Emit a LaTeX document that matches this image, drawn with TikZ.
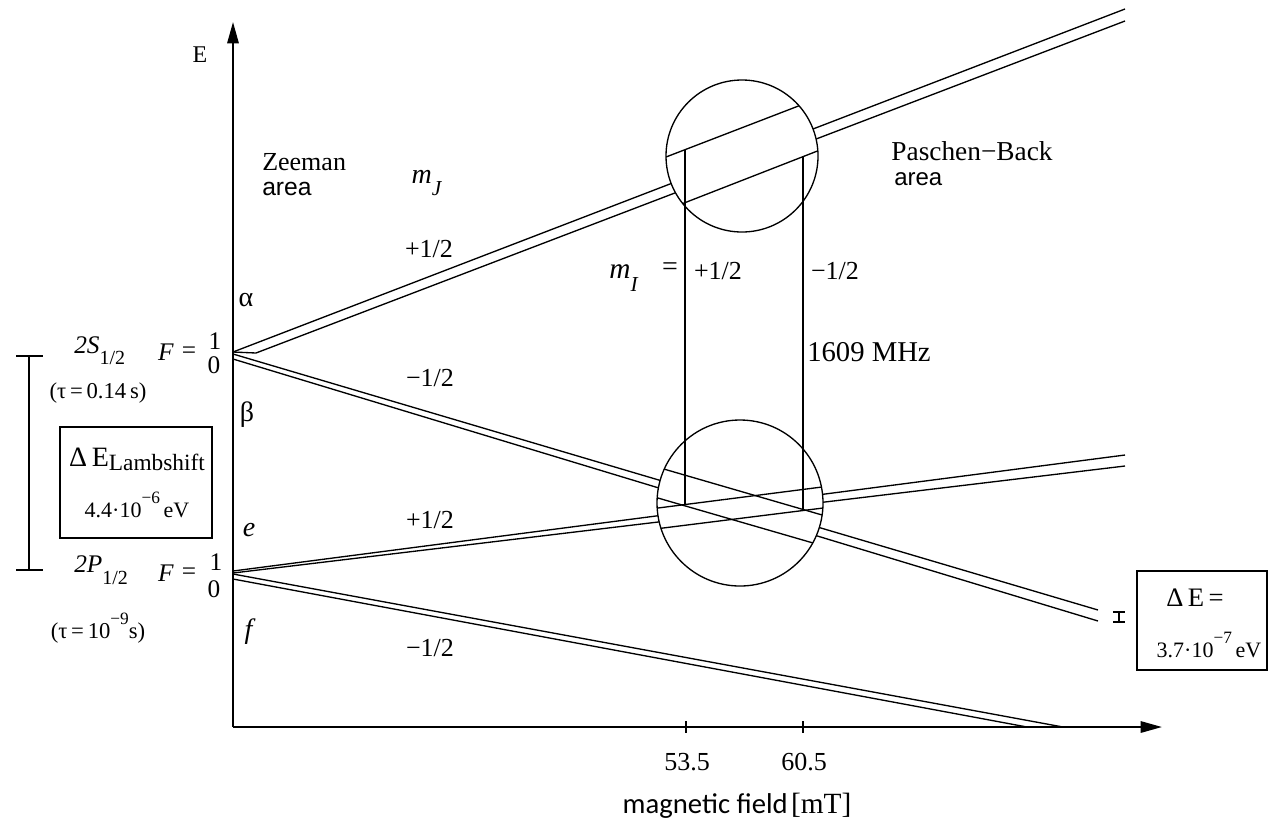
\documentclass[tikz,border=0pt]{standalone}
\usepackage{fontspec}
\setmainfont{Liberation Serif}
\newfontfamily\arialf{Liberation Sans}
\newfontfamily\calib{Carlito}
\usetikzlibrary{arrows.meta}
\newcommand\subt[2][15]{\raisebox{-0.45em}{\fontsize{#1}{#1}\selectfont #2}}
\newcommand\supt[2][13]{\raisebox{0.6em}{\fontsize{#1}{#1}\selectfont #2}}
\newcommand\fsz[1]{\fontsize{#1}{#1}\selectfont}
\begin{document}
\begin{tikzpicture}[x=0.75pt,y=-0.75pt,
  lvl/.style={line width=1pt},
  axis/.style={line width=1.5pt, -{Stealth[length=16pt,width=8.5pt,inset=0pt]}},
  lab/.style={inner sep=0pt, font=\fsz{19.5}},
  sml/.style={inner sep=0pt, font=\fsz{19}},
  boxst/.style={draw, line width=1pt}]
\useasboundingbox (0,0) rectangle (1269,826);

% coordinates
\coordinate (O) at (233,727);
\coordinate (ytop) at (233,22);
\coordinate (xend) at (1162,727);
\coordinate (S) at (233,352);
\coordinate (P) at (233,571);

% axes
\draw[axis] (O) -- (ytop);
\draw[axis] (O) -- (xend);
\draw[line width=1pt] (686,721) -- (686,733);
\draw[line width=1pt] (803,721) -- (803,733);

% level lines
\draw[lvl] (S) -- (1125,9);
\draw[lvl] (S) -- (256,353) -- (1125,21);
\draw[lvl] (233,354) -- (1098,610);
\draw[lvl] (233,359) -- (1098,621);
\draw[lvl] (P) -- (1125,455);
\draw[lvl] (233,573) -- (1125,466);
\draw[lvl] (233,574) -- (1063,727);
\draw[lvl] (233,579) -- (1027,727);

% circles
\coordinate (c1) at (742,156);
\coordinate (c2) at (740,503);
\fill[white] (c1) circle[radius=57pt];
\fill[white] (c2) circle[radius=62.25pt];
\begin{scope}
  \clip (c1) circle[radius=57pt];
  \draw[lvl] (640,167) -- (840,90);
  \draw[lvl] (660,212.4) -- (840,142.2);
\end{scope}
\begin{scope}
  \clip (c2) circle[radius=62.25pt];
  \draw[lvl] (650,465) -- (830,517.3);
  \draw[lvl] (640,492.8) -- (830,547.9);
  \draw[lvl] (640,510.3) -- (840,484.7);
  \draw[lvl] (640,530.9) -- (840,505.9);
\end{scope}
\draw[lvl] (c1) circle[radius=57pt];
\draw[lvl] (c2) circle[radius=62.25pt];
\draw[lvl] (685,150) -- (685,504.5);
\draw[lvl] (803,156.6) -- (803,509.4);

% bracket left
\draw[line width=1.3pt] (16,356) -- (43,356) (29,356) -- (29,570) (16,570) -- (43,570);
% small I marker right
\draw[line width=1.8pt] (1113,612) -- (1125,612) (1119,612) -- (1119,622) (1113,622) -- (1125,622);

% boxes
\draw[boxst] (60,427) rectangle (212,538);
\draw[boxst] (1137,571) rectangle (1267,670);

% texts
\node[lab, font=\fsz{18}] (tE) at (200,55) {E};
\node[lab, anchor=west] (tZee) at (262,162) {Zeeman};
\node[inner sep=0pt, anchor=west, font=\arialf\fsz{18.5}] (tZarea) at (262,189) {area};
\node[lab, font=\fsz{21}] (tmJ) at (427,183) {\textit{m}\subt[16]{\textit{J}}};
\node[lab] (tp1) at (429,249) {+1/2};
\node[lab, font=\fsz{21}] (talpha) at (246,300) {α};
\node[lab] (tm1) at (430,378) {−1/2};
\node[lab, font=\fsz{21}] (tbeta) at (247,415) {β};
\node[lab, font=\fsz{21}] (te) at (249,530) {\textit{e}};
\node[lab] (tp2) at (430,520) {+1/2};
\node[lab, font=\fsz{21}] (tf) at (250,632) {\textit{f}};
\node[lab] (tm2) at (430,648) {−1/2};
\node[lab, font=\fsz{22}] (tmI) at (624,278) {\textit{m}\subt[16]{\textit{I}}};
\node[lab, font=\fsz{21}] (teq) at (670,269) {=};
\node[lab] (tp3) at (718,271) {+1/2};
\node[lab] (tm3) at (835,271) {−1/2};
\node[lab, font=\fsz{21.5}] (tMHz) at (869,352) {1609 MHz};
\node[lab, font=\fsz{20.5}] (tPB) at (972,151) {Paschen−Back};
\node[inner sep=0pt, anchor=west, font=\arialf\fsz{18}] (tParea) at (894,179) {area};
\node[lab] (t535) at (687,762) {53.5};
\node[lab] (t605) at (804,762) {60.5};
\node[inner sep=0pt] (tmag) at (737,806) {{\calib\fsz{21.5}magnetic field} {\fsz{22}[mT]}};

% 2S
\node[sml, anchor=west] (t2S) at (74,351) {\textit{2S}\subt{1/2}};
\node[sml] (tF1) at (166,352) {\textit{F}};
\node[sml] (teq1) at (189,353) {=};
\node[sml] (t1a) at (215,341) {1};
\node[sml] (t0a) at (214,365) {0};
\node[inner sep=0pt, font=\fsz{17}] (ttau1) at (98,393) {(τ\,=\,0.14\,s)};
% Lamb box
\node[inner sep=0pt] (tLamb) at (137,459) {{\fsz{21}Δ\,E}{\raisebox{-0.3em}{\fsz{17.5}Lambshift}}};
\node[inner sep=0pt, font=\fsz{16.5}] (tLval) at (137,505) {4.4·10\supt{−6}\,eV};
% 2P
\node[sml, anchor=west] (t2P) at (74,570) {\textit{2P}\subt{1/2}};
\node[sml] (tF2) at (166,573) {\textit{F}};
\node[sml] (teq2) at (189,574) {=};
\node[sml] (t1b) at (216,562) {1};
\node[sml] (t0b) at (214,589) {0};
\node[inner sep=0pt, font=\fsz{17}] (ttau2) at (98,628) {(τ\,=\,10\supt{−9}s)};
% dE box
\node[inner sep=0pt, font=\fsz{20}] (tdE) at (1195,598) {Δ\,E\,=};
\node[inner sep=0pt, font=\fsz{16.5}] (tdEv) at (1209,645) {3.7·10\supt{−7}\,eV};
\end{tikzpicture}
\end{document}
